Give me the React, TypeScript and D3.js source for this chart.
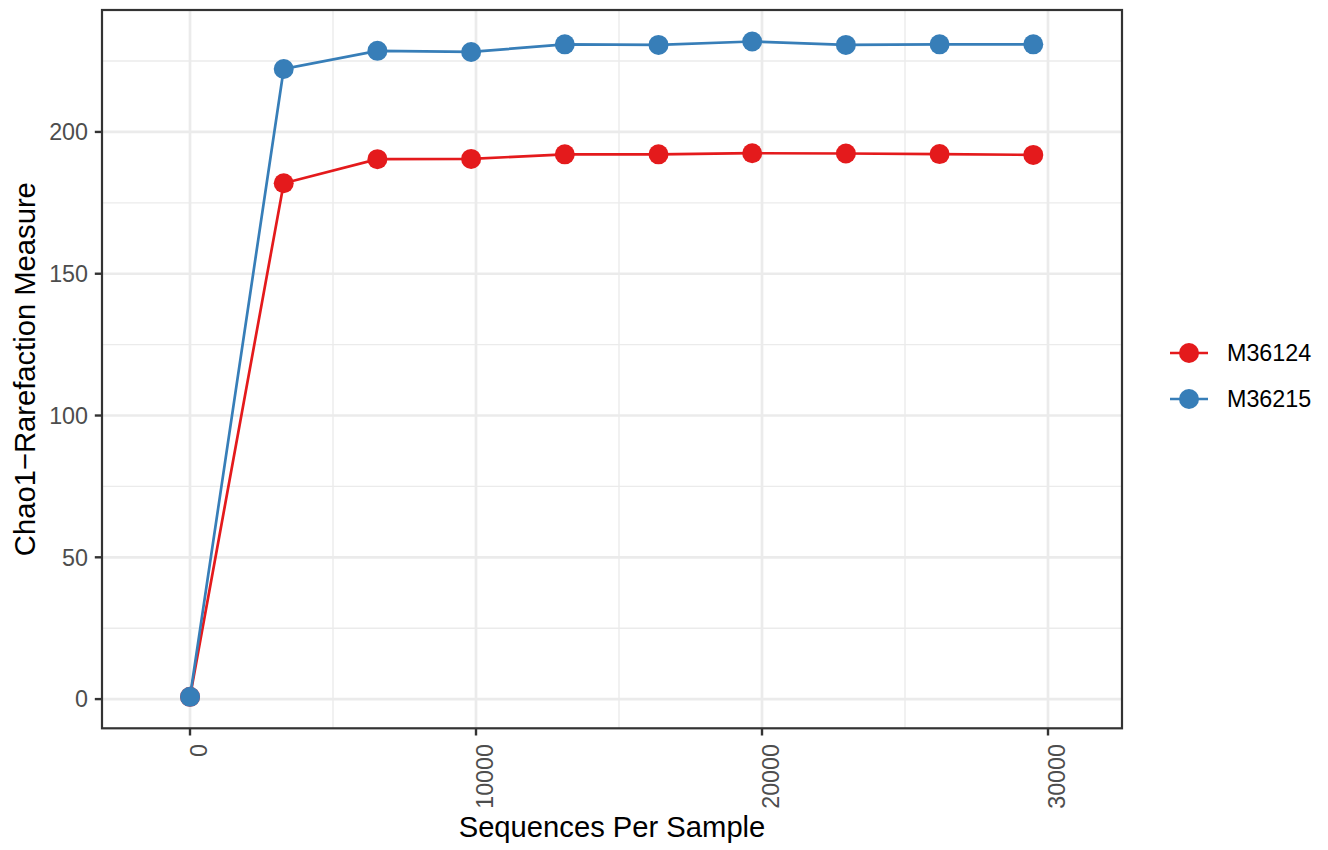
import React from "react";
import * as d3 from "d3";

const seqPerSample = [1, 3277, 6553, 9829, 13105, 16381, 19657, 22933, 26209, 29485];
const seriesNames = ["M36124", "M36215"];
const valuesM36124 = [0.8, 181.9, 190.4, 190.5, 192.1, 192.1, 192.5, 192.4, 192.2, 191.9];
const valuesM36215 = [0.8, 222.2, 228.6, 228.2, 230.9, 230.7, 231.9, 230.7, 230.9, 230.9];
const seriesColors = ["#E41A1C", "#377EB8"];
const xTicks = [0, 10000, 20000, 30000];
const xMinor = [5000, 15000, 25000];
const yTicks = [0, 50, 100, 150, 200];
const yMinor = [25, 75, 125, 175, 225];

const W = 1328;
const H = 850;
const P = { left: 102, right: 1122, top: 10, bottom: 728.3 };
const FONT = "'Liberation Sans', Arial, Helvetica, sans-serif";

export default function App() {
  const x = d3.scaleLinear().domain([-3077, 32587]).range([P.left, P.right]);
  const y = d3.scaleLinear().domain([-10.3, 243.0]).range([P.bottom, P.top]);
  const series = [valuesM36124, valuesM36215];
  const line = d3
    .line<number>()
    .x((_, i) => x(seqPerSample[i]))
    .y((d) => y(d));

  return (
    <svg
      width={W}
      height={H}
      style={{ position: "absolute", left: 0, top: 0, background: "#fff" }}
      fontFamily={FONT}
    >
      <rect x={0} y={0} width={W} height={H} fill="#fff" />
      {/* minor grid */}
      {xMinor.map((v) => (
        <line key={"xm" + v} x1={x(v)} x2={x(v)} y1={P.top} y2={P.bottom} stroke="#EBEBEB" strokeWidth={1.4} />
      ))}
      {yMinor.map((v) => (
        <line key={"ym" + v} x1={P.left} x2={P.right} y1={y(v)} y2={y(v)} stroke="#EBEBEB" strokeWidth={1.4} />
      ))}
      {/* major grid */}
      {xTicks.map((v) => (
        <line key={"xM" + v} x1={x(v)} x2={x(v)} y1={P.top} y2={P.bottom} stroke="#EBEBEB" strokeWidth={2.7} />
      ))}
      {yTicks.map((v) => (
        <line key={"yM" + v} x1={P.left} x2={P.right} y1={y(v)} y2={y(v)} stroke="#EBEBEB" strokeWidth={2.7} />
      ))}
      {/* lines */}
      {series.map((s, k) => (
        <path key={"l" + k} d={line(s) || ""} fill="none" stroke={seriesColors[k]} strokeWidth={2.7} />
      ))}
      {/* points */}
      {series.map((s, k) =>
        s.map((v, i) => (
          <circle key={"p" + k + "-" + i} cx={x(seqPerSample[i])} cy={y(v)} r={10} fill={seriesColors[k]} />
        ))
      )}
      {/* panel border */}
      <rect
        x={P.left}
        y={P.top}
        width={P.right - P.left}
        height={P.bottom - P.top}
        fill="none"
        stroke="#333333"
        strokeWidth={2.2}
      />
      {/* y axis */}
      {yTicks.map((v) => (
        <g key={"yt" + v}>
          <line x1={P.left - 7.2} x2={P.left} y1={y(v)} y2={y(v)} stroke="#333333" strokeWidth={2.4} />
          <text x={88} y={y(v)} dy="0.36em" textAnchor="end" fontSize={23.3} fill="#4D4D4D">
            {v}
          </text>
        </g>
      ))}
      {/* x axis */}
      {xTicks.map((v) => (
        <g key={"xt" + v}>
          <line x1={x(v)} x2={x(v)} y1={P.bottom} y2={P.bottom + 7.2} stroke="#333333" strokeWidth={2.4} />
          <text
            transform={`translate(${x(v)},744) rotate(-90)`}
            x={0}
            y={16.8}
            textAnchor="end"
            fontSize={23.3}
            fill="#4D4D4D"
          >
            {v}
          </text>
        </g>
      ))}
      {/* axis titles */}
      <text x={(P.left + P.right) / 2} y={836.5} textAnchor="middle" fontSize={29.2} fill="#000">
        Sequences Per Sample
      </text>
      <text
        transform={`translate(35,${(P.top + P.bottom) / 2}) rotate(-90)`}
        textAnchor="middle"
        fontSize={29.2}
        fill="#000"
      >
        Chao1−Rarefaction Measure
      </text>
      {/* legend */}
      {seriesNames.map((name, k) => {
        const cy = 353 + k * 46;
        return (
          <g key={"lg" + k}>
            <line x1={1170} x2={1208} y1={cy} y2={cy} stroke={seriesColors[k]} strokeWidth={2.7} />
            <circle cx={1189} cy={cy} r={10} fill={seriesColors[k]} />
            <text x={1227} y={cy} dy="0.36em" fontSize={23.3} fill="#000">
              {name}
            </text>
          </g>
        );
      })}
    </svg>
  );
}
